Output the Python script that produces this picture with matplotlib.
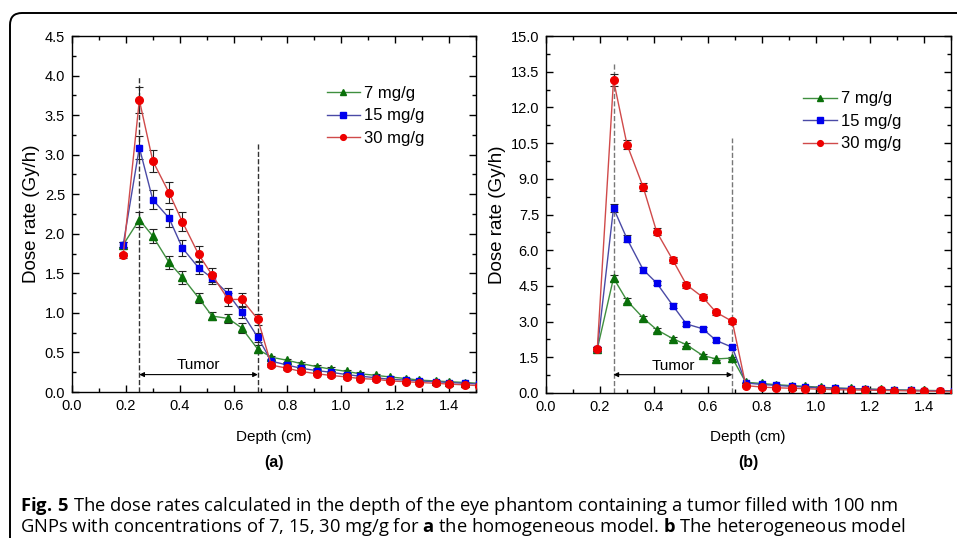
import matplotlib
matplotlib.use("Agg")
import matplotlib.pyplot as plt
from matplotlib.ticker import MultipleLocator, AutoMinorLocator
from matplotlib.patches import FancyBboxPatch
from matplotlib.transforms import IdentityTransform

plt.rcParams['font.family'] = ['Liberation Sans', 'DejaVu Sans']
plt.rcParams['mathtext.fontset'] = 'custom'
plt.rcParams['mathtext.rm'] = 'Open Sans'
plt.rcParams['mathtext.bf'] = 'Open Sans:bold'

# depth points (cm)
depth = [0.19, 0.25, 0.30, 0.36, 0.41, 0.47, 0.52, 0.58, 0.63, 0.69,
         0.74, 0.80, 0.85, 0.91, 0.96, 1.02, 1.07, 1.13, 1.18, 1.24,
         1.29, 1.35, 1.40, 1.46, 1.51]
labels = ["7 mg/g", "15 mg/g", "30 mg/g"]

# (a) homogeneous model
a_7 = [1.86, 2.18, 1.97, 1.64, 1.45, 1.19, 0.96, 0.93, 0.81, 0.54,
       0.44, 0.40, 0.36, 0.32, 0.29, 0.26, 0.23, 0.21, 0.19, 0.17,
       0.15, 0.14, 0.13, 0.12, 0.11]
a_15 = [1.86, 3.09, 2.43, 2.20, 1.82, 1.57, 1.44, 1.24, 1.01, 0.69,
        0.39, 0.34, 0.30, 0.27, 0.25, 0.22, 0.20, 0.18, 0.16, 0.15,
        0.14, 0.13, 0.12, 0.11, 0.10]
a_30 = [1.73, 3.69, 2.92, 2.52, 2.15, 1.74, 1.48, 1.17, 1.17, 0.92,
        0.34, 0.30, 0.26, 0.23, 0.21, 0.19, 0.17, 0.16, 0.14, 0.13,
        0.12, 0.11, 0.10, 0.09, 0.08]
a_7_err = [0.03, 0.10, 0.09, 0.08, 0.08, 0.06, 0.05, 0.06, 0.06, 0.05,
           0.02, 0.02, 0.02, 0.02, 0.02, 0.02, 0.02, 0.02, 0.01, 0.01,
           0.01, 0.01, 0.01, 0.01, 0.01]
a_15_err = [0.03, 0.15, 0.12, 0.11, 0.10, 0.08, 0.07, 0.08, 0.07, 0.06,
            0.02, 0.02, 0.02, 0.02, 0.02, 0.02, 0.02, 0.02, 0.01, 0.01,
            0.01, 0.01, 0.01, 0.01, 0.01]
a_30_err = [0.03, 0.16, 0.14, 0.13, 0.12, 0.10, 0.09, 0.08, 0.08, 0.07,
            0.02, 0.02, 0.02, 0.02, 0.02, 0.02, 0.02, 0.02, 0.01, 0.01,
            0.01, 0.01, 0.01, 0.01, 0.01]

# (b) heterogeneous model
b_7 = [1.85, 4.83, 3.88, 3.15, 2.66, 2.28, 2.03, 1.58, 1.43, 1.47,
       0.45, 0.40, 0.35, 0.31, 0.28, 0.24, 0.21, 0.19, 0.17, 0.15,
       0.13, 0.12, 0.11, 0.10, 0.09]
b_15 = [1.85, 7.77, 6.48, 5.18, 4.62, 3.67, 2.90, 2.70, 2.21, 1.92,
        0.42, 0.36, 0.32, 0.28, 0.25, 0.22, 0.20, 0.18, 0.16, 0.14,
        0.12, 0.11, 0.10, 0.09, 0.08]
b_30 = [1.85, 13.15, 10.44, 8.65, 6.77, 5.58, 4.55, 4.03, 3.39, 3.01,
        0.31, 0.25, 0.22, 0.20, 0.18, 0.16, 0.14, 0.13, 0.12, 0.11,
        0.10, 0.09, 0.08, 0.07, 0.06]
b_7_err = [0.08, 0.12, 0.10, 0.09, 0.08, 0.07, 0.07, 0.06, 0.06, 0.06,
           0.02, 0.02, 0.02, 0.02, 0.02, 0.02, 0.02, 0.02, 0.02, 0.02,
           0.02, 0.02, 0.02, 0.02, 0.02]
b_15_err = [0.08, 0.18, 0.14, 0.12, 0.10, 0.10, 0.09, 0.09, 0.08, 0.08,
            0.02, 0.02, 0.02, 0.02, 0.02, 0.02, 0.02, 0.02, 0.02, 0.02,
            0.02, 0.02, 0.02, 0.02, 0.02]
b_30_err = [0.10, 0.25, 0.20, 0.18, 0.15, 0.13, 0.12, 0.12, 0.10, 0.10,
            0.02, 0.02, 0.02, 0.02, 0.02, 0.02, 0.02, 0.02, 0.02, 0.02,
            0.02, 0.02, 0.02, 0.02, 0.02]

tumor_start, tumor_end = 0.25, 0.69

line_colors = ['#3f8f3f', '#4a4aa6', '#d04a4a']
marker_colors = ['#0a700a', '#0000ee', '#ee0000']
markers = ['^', 's', 'o']
msizes = [5.5, 5, 5.5]

fig = plt.figure(figsize=(9.57, 5.38), dpi=100)
ax_a = fig.add_axes([72/957, 1 - 392/538, 404/957, 356/538])
ax_b = fig.add_axes([546/957, 1 - 393/538, 405/957, 357/538])


def draw_panel(ax, series, errs, ylim, ystep, dash_tops, dash_color,
               arrow_y, text_y, legend_anchor):
    for i, (y, e) in enumerate(zip(series, errs)):
        ax.errorbar(depth, y, yerr=e, fmt='none', ecolor='#222222',
                    elinewidth=0.8, capsize=3, capthick=0.8, zorder=2)
        ax.plot(depth, y, color=line_colors[i], lw=1, marker=markers[i],
                ms=msizes[i], mfc=marker_colors[i], mec=marker_colors[i],
                label=labels[i], zorder=3)

    ax.plot([tumor_start, tumor_start], [0, dash_tops[0]], ls='--',
            color=dash_color, lw=1, zorder=1)
    ax.plot([tumor_end, tumor_end], [0, dash_tops[1]], ls='--',
            color=dash_color, lw=1, zorder=1)
    ax.annotate('', xy=(tumor_start, arrow_y), xytext=(tumor_end, arrow_y),
                arrowprops=dict(arrowstyle='<|-|>', color='black', lw=0.8,
                                mutation_scale=7, shrinkA=0, shrinkB=0))
    ax.text((tumor_start + tumor_end) / 2, text_y, "Tumor", ha='center',
            va='bottom', fontsize=11)

    ax.set_xlim(0, 1.5)
    ax.set_ylim(*ylim)
    ax.xaxis.set_major_locator(MultipleLocator(0.2))
    ax.xaxis.set_minor_locator(AutoMinorLocator(2))
    ax.yaxis.set_major_locator(MultipleLocator(ystep))
    ax.yaxis.set_minor_locator(AutoMinorLocator(2))
    ax.tick_params(which='both', direction='in', top=True, right=True,
                   width=1, labelsize=10.5)
    ax.tick_params(which='major', length=5, pad=5)
    ax.tick_params(which='minor', length=3)
    ax.xaxis.set_major_formatter(plt.FormatStrFormatter('%.1f'))
    ax.yaxis.set_major_formatter(plt.FormatStrFormatter('%.1f'))
    ax.set_ylabel("Dose rate (Gy/h)", fontsize=13.5, labelpad=3)
    for sp in ax.spines.values():
        sp.set_linewidth(1)

    ax.legend(loc='upper left', bbox_to_anchor=legend_anchor, frameon=False,
              fontsize=12, handlelength=2.0, handletextpad=0.25,
              labelspacing=0.45, borderpad=0, borderaxespad=0,
              markerscale=0.75)


draw_panel(ax_a, [a_7, a_15, a_30], [a_7_err, a_15_err, a_30_err],
           (0, 4.5), 0.5, (4.0, 3.15), '#333333', 0.22, 0.25, (0.63, 0.86))
draw_panel(ax_b, [b_7, b_15, b_30], [b_7_err, b_15_err, b_30_err],
           (0, 15.0), 1.5, (13.85, 10.7), '#777777', 0.77, 0.86, (0.635, 0.845))

for cx, tag in [(274, "(a)"), (748, "(b)")]:
    fig.text(cx/957, 1 - 437/538, "Depth (cm)", ha='center', va='center',
             fontsize=11)
    fig.text(cx/957, 1 - 462/538, tag, ha='center', va='center',
             fontsize=11.5, weight='bold')

cap_font = ['Open Sans', 'DejaVu Sans']
fig.text(20/957, 1 - 506/538,
         r"$\mathbf{Fig.\,5}$ The dose rates calculated in the depth of the eye "
         "phantom containing a tumor filled with 100 nm",
         ha='left', va='center', fontsize=13.2, family=cap_font)
fig.text(20/957, 1 - 527/538,
         r"GNPs with concentrations of 7, 15, 30 mg/g for $\mathbf{a}$ the homogeneous "
         r"model. $\mathbf{b}$ The heterogeneous model",
         ha='left', va='center', fontsize=13.2, family=cap_font)

frame = FancyBboxPatch((10, -30), 1000, 538 - 13 + 30,
                       boxstyle="round,pad=0,rounding_size=12",
                       transform=IdentityTransform(), fill=False,
                       lw=1.4, ec='black')
fig.add_artist(frame)

fig.savefig("out.png", dpi=100)
